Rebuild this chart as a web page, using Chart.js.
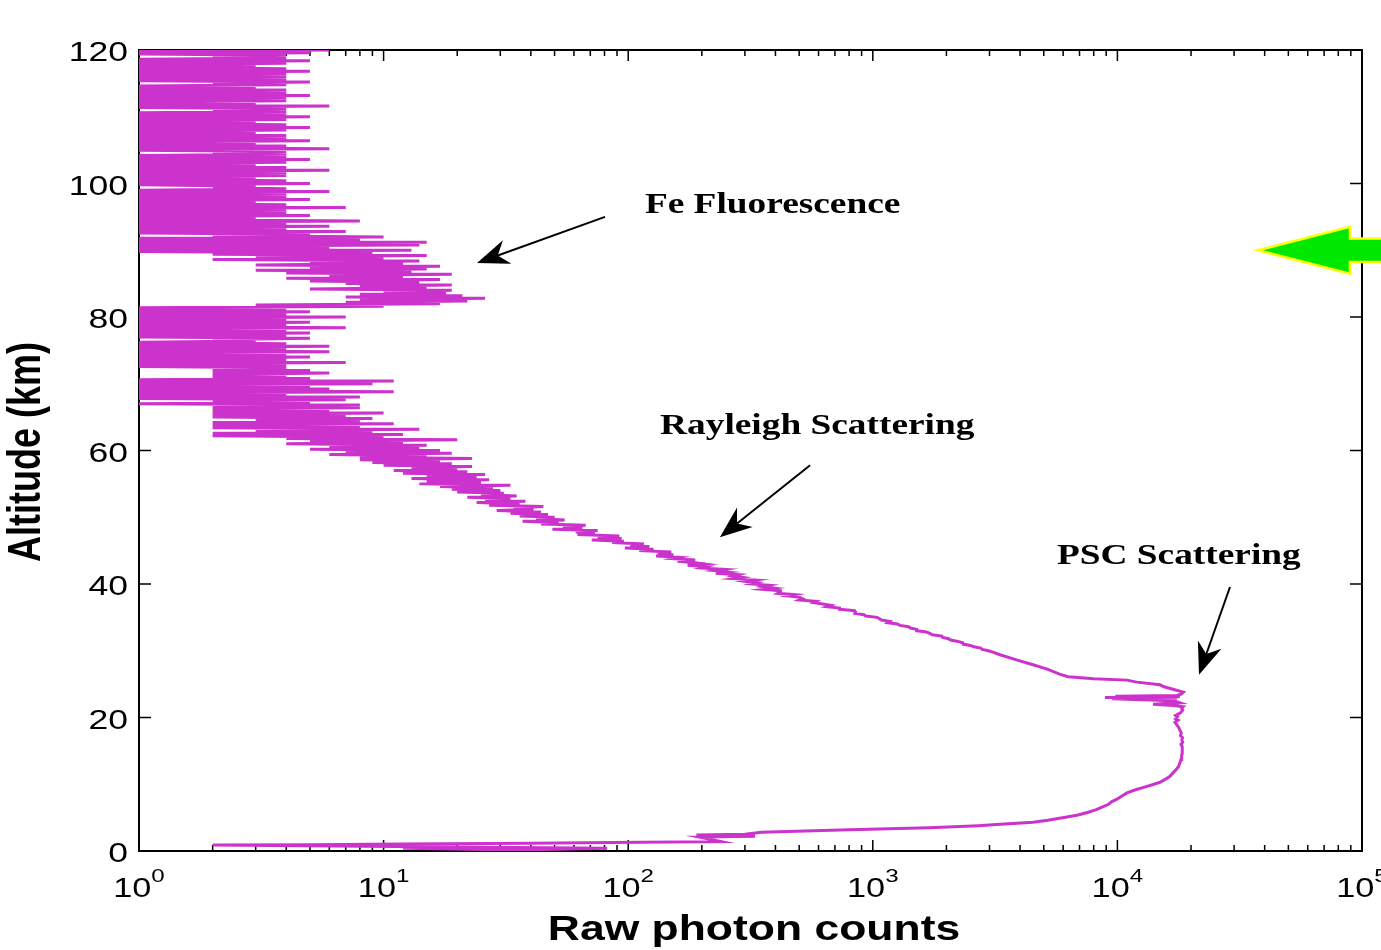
<!DOCTYPE html>
<html>
<head>
<meta charset="utf-8">
<script src="https://cdn.jsdelivr.net/npm/chart.js@4.4.1/dist/chart.umd.min.js"></script>
<style>
html,body{margin:0;padding:0;background:#fff;overflow:hidden}
canvas{display:block}
</style>
</head>
<body>
<canvas id="c" width="1381" height="950"></canvas>
<script>
// ---------------- DATA ----------------
// Lowest part of the profile, 0 - 30 km: explicit (altitude, counts) pairs
const lowAltKm  = [0.4, 0.15, 0.4, 0.9, 0.95, 1.05, 1.15, 1.3, 1.4, 2.1, 2.2, 2.4, 2.5, 2.8, 3.2, 3.5, 3.8,
  4.0, 4.15, 4.3, 4.6, 4.9, 5.1, 5.4, 5.8, 6.2, 6.6, 7.0, 7.4, 7.8, 8.2, 8.7, 9.1, 9.6, 10.0, 10.3, 10.8,
  11.2, 11.7, 12.2, 12.7, 13.2, 13.7, 14.2, 14.7, 15.1, 15.6, 16.0, 16.3, 16.6, 17.0, 17.3, 17.7, 18.1,
  18.5, 18.9, 19.3, 19.6, 19.8, 20.1, 20.3, 20.7, 21.1, 21.4, 21.6, 21.8, 22.0, 22.1, 22.2, 22.5, 22.8,
  22.9, 23.0, 23.1, 23.2, 23.3, 23.5, 23.8, 24.2, 24.6, 24.9, 25.3, 25.6, 25.8, 26.1, 26.5, 27.2, 27.9,
  28.6, 29.4, 29.8];
const lowCounts = [12, 35, 82, 2, 5, 12, 40, 112, 240, 195, 330, 190, 300, 350, 800, 1700, 2700,
  3311, 3900, 4520, 5200, 5800, 6220, 6900, 7600, 8200, 8700, 9200, 9500, 10000, 10400, 10940, 11700, 13000, 14100, 14930, 15800,
  16400, 16870, 17400, 17800, 18000, 18200, 18300, 18400, 18370, 18450, 18200, 18500, 18350, 18450, 18100, 18250, 18000,
  17800, 17500, 17200, 17700, 17300, 17600, 17300, 18100, 18500, 18300, 18550, 17000, 13990, 15500, 18000, 17000, 9500,
  17500, 8900, 18000, 9800, 17600, 18200, 18600, 17000, 15500, 14930, 12000, 10940, 8000, 6280, 5800, 5200, 4519,
  3900, 3311, 3100];

// Range bins of 0.2 km above 30 km; each band lists counts from its start altitude upward
const BIN_KM = 0.2;
const start30 = 30.0;
const counts30to50 = [
  2970, 2800, 2760, 2590, 2500, 2340, 2330, 2230, 2080, 2040,
  1930, 1915, 1750, 1710, 1655, 1515, 1510, 1425, 1400, 1290,
  1260, 1150, 1170, 1085, 1065, 1040, 935, 920, 845, 850,
  843, 733, 731, 649, 672, 624, 573, 586, 501, 516,
  503, 453, 480, 409, 418, 419, 358, 394, 357, 377,
  320, 335, 303, 331, 270, 292, 269, 282, 228, 255,
  227, 247, 200, 209, 175, 206, 188, 159, 188, 153,
  162, 130, 153, 132, 150, 111, 127, 97, 122, 102,
  116, 86, 96, 71, 94, 75, 92, 62, 73, 61,
  75, 49, 65, 54, 67, 44, 52, 37, 55, 42];
const start50 = 50.0;
const counts50to68 = [
  50, 36, 47, 33, 44, 29, 41, 34, 45, 27,
  36, 24, 38, 26, 33, 22, 35, 25, 31, 20,
  30, 19, 28, 17, 33, 14, 25, 15, 27, 13,
  24, 15, 26, 12, 22, 11, 20, 13, 23, 10,
  19, 9, 17, 8, 23, 8, 15, 6, 19, 7,
  17, 5, 14, 6, 15, 4, 12, 5, 20, 4,
  10, 2, 12, 2, 9, 3, 14, 2, 8, 2,
  11, 2, 8, 3, 9, 2, 7, 2, 10, 2,
  6, 2, 8, 2, 8, 1, 5, 2, 7, 1];
const start68 = 68.0;
const counts68to81 = [
  8, 1, 4, 1, 11, 1, 6, 1, 5, 1,
  9, 1, 11, 1, 5, 2, 4, 2, 6, 2,
  5, 2, 4, 1, 4, 1, 7, 1, 4, 1,
  5, 1, 4, 1, 6, 1, 4, 1, 6, 1,
  4, 1, 3, 2, 5, 1, 4, 1, 5, 1,
  4, 1, 7, 1, 4, 1, 5, 1, 4, 1,
  7, 1, 4, 1, 5];
const start81 = 81.0;
const counts81to96 = [
  1, 4, 1, 10, 3, 17, 7, 22, 8, 26,
  7, 21, 8, 18, 10, 19, 5, 15, 8, 19,
  7, 14, 5, 17, 4, 12, 6, 19, 4, 13,
  3, 15, 5, 17, 3, 12, 5, 14, 2, 10,
  3, 15, 2, 9, 1, 13, 1, 6, 1, 14,
  1, 15, 1, 8, 1, 10, 2, 5, 1, 7,
  1, 4, 1, 6, 1, 4, 1, 8, 1, 3,
  1, 5, 1, 4, 1];
const start96 = 96.0;
const counts96to120 = [
  4, 1, 7, 1, 4, 1, 3, 1, 5, 1,
  4, 1, 4, 1, 6, 1, 4, 2, 3, 1,
  5, 1, 4, 1, 3, 1, 4, 1, 4, 1,
  6, 1, 4, 1, 3, 1, 4, 1, 5, 1,
  4, 1, 4, 2, 4, 1, 6, 1, 4, 1,
  3, 1, 5, 1, 4, 1, 4, 1, 3, 1,
  4, 1, 5, 1, 4, 1, 3, 1, 4, 1,
  5, 1, 4, 1, 4, 2, 4, 1, 6, 1,
  3, 1, 4, 1, 4, 1, 5, 1, 4, 1,
  4, 1, 3, 1, 4, 2, 5, 1, 4, 1,
  4, 1, 4, 1, 5, 1, 4, 1, 3, 1,
  4, 1, 5, 1, 4, 2, 4, 1, 5, 1,
  6];

// Axis ticks
const xDecadeExponents = [0, 1, 2, 3, 4, 5];
const yTickValues = [0, 20, 40, 60, 80, 100, 120];

// Annotation texts and arrows (in data units: counts, km)
const noteTexts  = ['Fe Fluorescence', 'Rayleigh Scattering', 'PSC Scattering'];
const noteCounts = [117, 135, 5660];
const noteAlts   = [95.6, 62.5, 43.0];
const arrowFromCounts = [80.4, 554, 28860];
const arrowFromAlts   = [95.0, 57.8, 39.55];
const arrowToCounts   = [24.1, 237, 21560];
const arrowToAlts     = [88.1, 47.0, 26.4];
// Green marker arrow at 90 km
const markerTip = {count: 37550, alt: 90.0};
const markerHeadBackCount = 89300;
const markerTailCount = 200000;
const markerHeadHalfKm = 3.5;
const markerShaftHalfKm = 1.75;

// ---------------- BUILD POINTS ----------------
const points = [];
lowAltKm.forEach((a, i) => points.push({x: lowCounts[i], y: a}));
function addBand(startKm, counts) {
  counts.forEach((c, j) => points.push({x: c, y: +(startKm + j * BIN_KM).toFixed(1)}));
}
addBand(start30, counts30to50);
addBand(start50, counts50to68);
addBand(start68, counts68to81);
addBand(start81, counts81to96);
addBand(start96, counts96to120);

// ---------------- DRAWING HELPERS ----------------
const SX = 1.27; // horizontal stretch of the reference lettering
const SANS = '"Liberation Sans", Arial, Helvetica, sans-serif';
const SERIF = '"Liberation Serif", "Times New Roman", Times, serif';

function stretchedText(ctx, str, x, y, font, align, sx) {
  const s = sx || SX;
  ctx.save();
  ctx.font = font;
  const w = ctx.measureText(str).width * s;
  let left = x;
  if (align === 'center') left = x - w / 2;
  else if (align === 'right') left = x - w;
  ctx.translate(left, y);
  ctx.scale(s, 1);
  ctx.textAlign = 'left';
  ctx.textBaseline = 'alphabetic';
  ctx.fillStyle = '#000';
  ctx.fillText(str, 0, 0);
  ctx.restore();
  return w;
}

function drawArrow(ctx, x0, y0, x1, y1) {
  const dx = x1 - x0, dy = y1 - y0, L = Math.hypot(dx, dy);
  const ux = dx / L, uy = dy / L, px = -uy, py = ux;
  const hl = 32, hw = 12.5, ind = 22;
  ctx.save();
  ctx.strokeStyle = '#000';
  ctx.fillStyle = '#000';
  ctx.lineWidth = 2;
  ctx.beginPath();
  ctx.moveTo(x0, y0);
  ctx.lineTo(x1 - ux * ind, y1 - uy * ind);
  ctx.stroke();
  ctx.beginPath();
  ctx.moveTo(x1, y1);
  ctx.lineTo(x1 - ux * hl + px * hw, y1 - uy * hl + py * hw);
  ctx.lineTo(x1 - ux * ind, y1 - uy * ind);
  ctx.lineTo(x1 - ux * hl - px * hw, y1 - uy * hl - py * hw);
  ctx.closePath();
  ctx.fill();
  ctx.restore();
}

const framePlugin = {
  id: 'frameTicks',
  beforeDatasetsDraw(chart) {
    const ctx = chart.ctx;
    const {left, right, top, bottom} = chart.chartArea;
    const xs = chart.scales.x, ys = chart.scales.y;
    ctx.save();
    ctx.strokeStyle = '#000';
    ctx.lineWidth = 2;
    ctx.strokeRect(left, top, right - left, bottom - top);
    ctx.lineWidth = 1.5;
    ctx.beginPath();
    xDecadeExponents.forEach(k => {
      const base = Math.pow(10, k);
      const px = xs.getPixelForValue(base);
      ctx.moveTo(px, bottom); ctx.lineTo(px, bottom - 11);
      ctx.moveTo(px, top); ctx.lineTo(px, top + 11);
      if (k < 5) {
        for (let m = 2; m <= 9; m++) {
          const q = xs.getPixelForValue(m * base);
          ctx.moveTo(q, bottom); ctx.lineTo(q, bottom - 6);
          ctx.moveTo(q, top); ctx.lineTo(q, top + 6);
        }
      }
    });
    yTickValues.forEach(v => {
      const py = ys.getPixelForValue(v);
      ctx.moveTo(left, py); ctx.lineTo(left + 12, py);
      ctx.moveTo(right, py); ctx.lineTo(right - 12, py);
    });
    ctx.stroke();
    ctx.restore();
  },
  afterDraw(chart) {
    const ctx = chart.ctx;
    const xs = chart.scales.x, ys = chart.scales.y;
    // y tick labels
    yTickValues.forEach(v => {
      stretchedText(ctx, String(v), 128, ys.getPixelForValue(v) + 11, '28px ' + SANS, 'right');
    });
    // x tick labels 10^k
    xDecadeExponents.forEach(k => {
      const px = xs.getPixelForValue(Math.pow(10, k));
      ctx.save();
      ctx.font = '27px ' + SANS;
      const w10 = ctx.measureText('10').width * SX;
      ctx.font = '19px ' + SANS;
      const we = ctx.measureText(String(k)).width * SX;
      ctx.restore();
      const l = px - (w10 + we) / 2;
      stretchedText(ctx, '10', l, 897, '27px ' + SANS, 'left');
      stretchedText(ctx, String(k), l + w10, 882, '19px ' + SANS, 'left');
    });
    // axis titles
    stretchedText(ctx, 'Raw photon counts', 754, 940, 'bold 35px ' + SANS, 'center');
    ctx.save();
    ctx.translate(40, 452);
    ctx.rotate(-Math.PI / 2);
    ctx.scale(1, SX);
    ctx.font = 'bold 36px ' + SANS;
    ctx.textAlign = 'center';
    ctx.textBaseline = 'alphabetic';
    ctx.fillStyle = '#000';
    ctx.fillText('Altitude (km)', 0, 0);
    ctx.restore();
    // annotations
    noteTexts.forEach((t, i) => {
      stretchedText(ctx, t, xs.getPixelForValue(noteCounts[i]), ys.getPixelForValue(noteAlts[i]),
        'bold 30px ' + SERIF, 'left', 1.245);
    });
    arrowFromCounts.forEach((c, i) => {
      drawArrow(ctx, xs.getPixelForValue(c), ys.getPixelForValue(arrowFromAlts[i]),
        xs.getPixelForValue(arrowToCounts[i]), ys.getPixelForValue(arrowToAlts[i]));
    });
    // green marker arrow
    const xt = xs.getPixelForValue(markerTip.count), yt = ys.getPixelForValue(markerTip.alt);
    const xb = xs.getPixelForValue(markerHeadBackCount), xe = xs.getPixelForValue(markerTailCount);
    const yhT = ys.getPixelForValue(markerTip.alt + markerHeadHalfKm), yhB = ys.getPixelForValue(markerTip.alt - markerHeadHalfKm);
    const ysT = ys.getPixelForValue(markerTip.alt + markerShaftHalfKm), ysB = ys.getPixelForValue(markerTip.alt - markerShaftHalfKm);
    ctx.save();
    ctx.beginPath();
    ctx.moveTo(xt, yt);
    ctx.lineTo(xb, yhT);
    ctx.lineTo(xb, ysT);
    ctx.lineTo(xe, ysT);
    ctx.lineTo(xe, ysB);
    ctx.lineTo(xb, ysB);
    ctx.lineTo(xb, yhB);
    ctx.closePath();
    ctx.fillStyle = '#00E800';
    ctx.fill();
    ctx.strokeStyle = '#FFFF00';
    ctx.lineWidth = 2.5;
    ctx.lineJoin = 'miter';
    ctx.stroke();
    ctx.restore();
  }
};

new Chart(document.getElementById('c'), {
  type: 'scatter',
  data: {
    datasets: [{
      data: points,
      showLine: true,
      borderColor: '#CC33CC',
      backgroundColor: '#CC33CC',
      borderWidth: 3,
      pointRadius: 0,
      pointHoverRadius: 0,
      tension: 0,
      fill: false
    }]
  },
  options: {
    responsive: false,
    devicePixelRatio: 1,
    animation: false,
    events: [],
    layout: {padding: {left: 139, right: 19, top: 50, bottom: 99}},
    plugins: {legend: {display: false}, tooltip: {enabled: false}},
    scales: {
      x: {type: 'logarithmic', min: 1, max: 100000, display: false},
      y: {type: 'linear', min: 0, max: 120, display: false}
    }
  },
  plugins: [framePlugin]
});
</script>
</body>
</html>
